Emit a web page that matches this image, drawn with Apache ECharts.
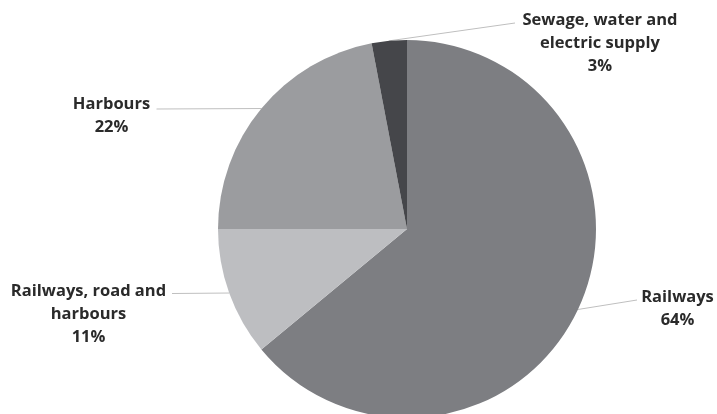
<!DOCTYPE html>
<html>
<head>
<meta charset="utf-8">
<script src="https://cdn.jsdelivr.net/npm/echarts@6/dist/echarts.min.js"></script>
<style>html,body{margin:0;padding:0;background:#fff}#c{width:717px;height:414px}</style>
</head>
<body>
<div id="c"></div>
<script>
const categories = ['Railways', 'Railways, road and\nharbours', 'Harbours', 'Sewage, water and\nelectric supply'];
const values = [64, 11, 22, 3];
const colors = ['#7d7e82', '#bdbec1', '#9b9c9f', '#45464a'];
// label placement: [centre x, y where the leader line meets the label]
const labelPos = [[677.5, 300], [88.5, 293.5], [111.5, 109], [600, 23]];
// spacer line above each label (height, width) so the leader line meets the label at its first line
const gapH = [17, 41, 14, 40];
const gapW = [81, 167, 90, 170];

const rich = {
  t: {fontFamily: 'Open Sans', fontWeight: 'bold', fontSize: 16.5, lineHeight: 23, height: 23,
      color: '#2a2a2a', backgroundColor: '#fff'}
};
gapH.forEach((h, i) => {
  rich['g' + i] = {fontSize: 1, lineHeight: h, height: h, width: gapW[i], backgroundColor: '#fff'};
});

const chart = echarts.init(document.getElementById('c'), null, {renderer: 'canvas'});
chart.setOption({
  animation: false,
  series: [{
    type: 'pie',
    center: [407, 229],
    radius: [0, 189],
    startAngle: 90,
    clockwise: true,
    data: categories.map((n, i) => ({name: n, value: values[i], itemStyle: {color: colors[i]}})),
    label: {
      show: true,
      position: 'outside',
      formatter: function (p) {
        const lines = p.name.split('\n').concat([p.value + '%']);
        return '{g' + p.dataIndex + '| }\n' + lines.map(l => '{t|' + l + '}').join('\n');
      },
      fontFamily: 'Open Sans',
      fontWeight: 'bold',
      fontSize: 16.5,
      color: '#2a2a2a',
      align: 'center',
      rich: rich
    },
    labelLine: {show: true, length: 0, length2: 0, lineStyle: {color: '#bfbfbf', width: 1}},
    labelLayout: function (p) {
      const pos = labelPos[p.dataIndex];
      return {x: pos[0], y: pos[1], align: 'center', verticalAlign: 'middle'};
    },
    emphasis: {disabled: true}
  }]
});
</script>
</body>
</html>
